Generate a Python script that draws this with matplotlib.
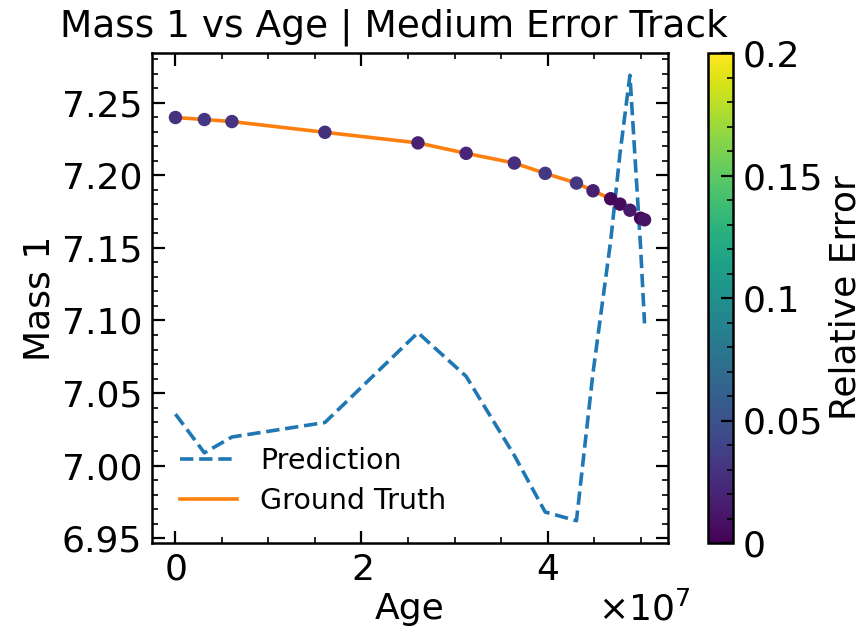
import matplotlib
matplotlib.use("Agg")
import matplotlib.pyplot as plt
from matplotlib.ticker import MultipleLocator, FuncFormatter, ScalarFormatter
import numpy as np

# Data (age in years, mass in solar masses)
age = [0.0, 0.311e7, 0.607e7, 1.607e7, 2.607e7, 3.125e7, 3.643e7, 3.975e7,
       4.311e7, 4.489e7, 4.679e7, 4.779e7, 4.886e7, 5.0e7, 5.043e7]
mass_true = [7.2399, 7.2385, 7.2371, 7.2297, 7.2224, 7.2152, 7.2085, 7.2014,
             7.1947, 7.1894, 7.1839, 7.1802, 7.1760, 7.1705, 7.1694]
mass_pred = [7.0355, 7.0088, 7.0197, 7.0297, 7.0916, 7.0615, 7.007, 6.968,
             6.962, 7.064, 7.155, 7.215, 7.269, 7.151, 7.098]

age = np.array(age)
mass_true = np.array(mass_true)
mass_pred = np.array(mass_pred)
rel_err = np.abs(mass_pred - mass_true) / mass_true

plt.rcParams.update({
    "font.family": "DejaVu Sans",
    "font.size": 26,
    "xtick.direction": "in",
    "ytick.direction": "in",
    "xtick.top": True,
    "ytick.right": True,
    "xtick.minor.visible": True,
    "ytick.minor.visible": True,
    "xtick.major.size": 9,
    "ytick.major.size": 9,
    "xtick.minor.size": 4.5,
    "ytick.minor.size": 4.5,
    "xtick.major.width": 1.6,
    "ytick.major.width": 1.6,
    "xtick.minor.width": 1.2,
    "ytick.minor.width": 1.2,
    "axes.linewidth": 1.8,
    "xtick.major.pad": 7,
    "ytick.major.pad": 7,
})

fig = plt.figure(figsize=(8.68, 6.4), dpi=100)
ax = fig.add_axes([152 / 868, 1 - 543 / 640, (668 - 152) / 868, (543 - 53) / 640])
cax = fig.add_axes([708 / 868, 1 - 543 / 640, 25 / 868, (543 - 53) / 640])

ax.plot(age, mass_pred, linestyle="--", color="#1f77b4", lw=2.6, label="Prediction")
ax.plot(age, mass_true, linestyle="-", color="#ff7f0e", lw=2.6, label="Ground Truth")
sc = ax.scatter(age, mass_true, c=rel_err, cmap="viridis", vmin=0, vmax=0.2,
                s=75, zorder=3)

ax.set_title("Mass 1 vs Age | Medium Error Track", fontsize=27, pad=12, x=0.468)
ax.set_xlabel("Age", fontsize=26)
ax.set_ylabel("Mass 1", fontsize=26)

fmt = ScalarFormatter(useMathText=True)
ax.xaxis.set_major_formatter(fmt)
ax.xaxis.set_major_locator(MultipleLocator(2e7))
ax.xaxis.set_minor_locator(MultipleLocator(0.5e7))
ax.yaxis.set_major_locator(MultipleLocator(0.05))
ax.yaxis.set_minor_locator(MultipleLocator(0.01))
ax.tick_params(labelsize=26)
ax.xaxis.get_offset_text().set_fontsize(26)
ax.xaxis.get_offset_text().set_x(1.043)

leg = ax.legend(loc="lower left", frameon=False, fontsize=20.5,
                handlelength=2.0, handletextpad=0.8, borderaxespad=0.6,
                labelspacing=0.4)

cb = fig.colorbar(sc, cax=cax)
cb.set_label("Relative Error", fontsize=26)
cb.set_ticks([0, 0.05, 0.1, 0.15, 0.2])
cb.ax.yaxis.set_major_formatter(FuncFormatter(lambda v, p: "%g" % v))
cb.ax.yaxis.set_minor_locator(MultipleLocator(0.01))
cb.ax.tick_params(which="both", direction="in", labelsize=26)
cb.outline.set_linewidth(1.8)

fig.savefig("out.png", dpi=100)
